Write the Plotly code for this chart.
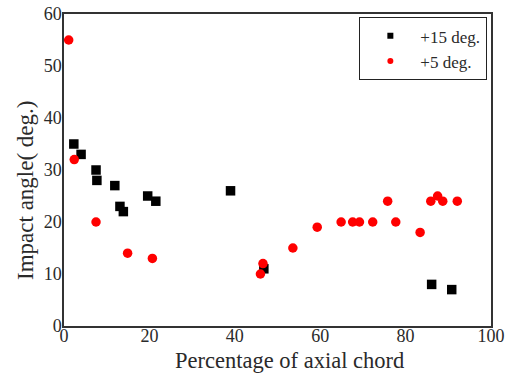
import plotly.graph_objects as go

# Impact angle vs. position along the axial chord, two incidence cases
chord_15 = [2.3, 4.0, 7.5, 7.7, 11.9, 13.1, 13.9, 19.6, 21.5, 39.0, 46.8, 86.1, 90.8]
angle_15 = [35, 33, 30, 28, 27, 23, 22, 25, 24, 26, 11, 8, 7]

chord_5 = [1.1, 2.4, 7.5, 14.9, 20.7, 46.0, 46.6, 53.6, 59.3, 64.9, 67.6, 69.2,
           72.3, 75.8, 77.7, 83.4, 85.9, 87.5, 88.7, 92.1]
angle_5 = [55, 32, 20, 14, 13, 10, 12, 15, 19, 20, 20, 20,
           20, 24, 20, 18, 24, 25, 24, 24]

x_ticks = [0, 20, 40, 60, 80, 100]
y_ticks = [0, 10, 20, 30, 40, 50, 60]

serif = "Liberation Serif"
ink = "#2a2a2a"

series = [
    ("+15 deg.", chord_15, angle_15, "square", "black"),
    ("+5 deg.", chord_5, angle_5, "circle", "#ff0000"),
]

fig = go.Figure()
for name, xs, ys, sym, col in series:
    # data markers
    fig.add_trace(go.Scatter(
        x=xs, y=ys, mode="markers", name=name, showlegend=False,
        marker=dict(symbol=sym, size=9.5, color=col),
    ))
    # smaller swatch for the legend box
    fig.add_trace(go.Scatter(
        x=[None], y=[None], mode="markers", name=name, showlegend=True,
        marker=dict(symbol=sym, size=6, color=col),
    ))

axis_common = dict(
    showgrid=False, zeroline=False, showline=True, linecolor="#333333",
    linewidth=1.5, mirror=True, ticks="", automargin=False,
    tickfont=dict(family=serif, size=18, color=ink),
)

fig.update_layout(
    width=511, height=374,
    margin=dict(l=64, r=20, t=14, b=48),
    paper_bgcolor="white", plot_bgcolor="white",
    showlegend=True,
    legend=dict(
        x=0.991, y=0.99, xanchor="right", yanchor="top",
        bgcolor="white", bordercolor="#222222", borderwidth=1.2,
        font=dict(family=serif, size=17, color=ink),
        itemsizing="trace", tracegroupgap=0, itemwidth=50,
    ),
    xaxis=dict(range=[0, 100], tickvals=x_ticks, ticklabelstandoff=-7,
               **axis_common),
    yaxis=dict(range=[0, 60], tickvals=y_ticks, ticklabelstandoff=-3,
               **axis_common),
    annotations=[
        dict(text="Percentage of axial chord", xref="paper", yref="paper",
             x=0.529, y=-0.112, xanchor="center", yanchor="middle",
             showarrow=False, font=dict(family=serif, size=22.5, color=ink)),
        dict(text="Impact angle( deg.)", xref="paper", yref="paper",
             x=-0.089, y=0.436, xanchor="center", yanchor="middle",
             textangle=-90, showarrow=False,
             font=dict(family=serif, size=23, color=ink)),
    ],
)

fig.write_html("out.html")
